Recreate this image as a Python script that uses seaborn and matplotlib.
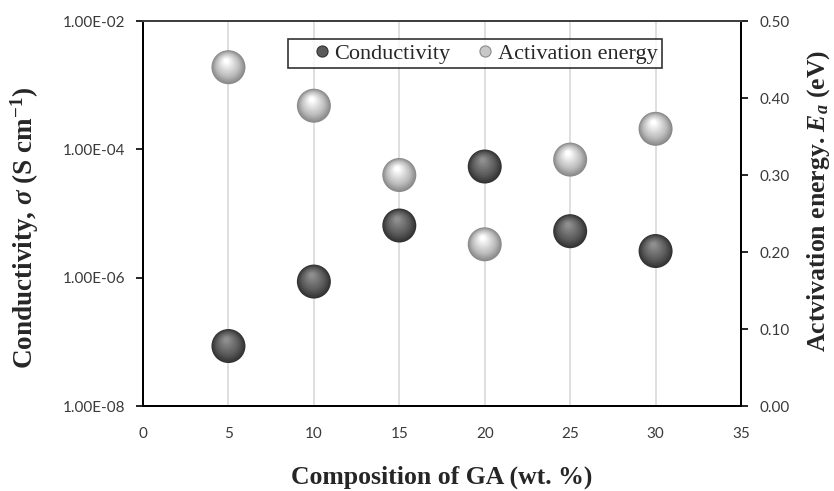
import numpy as np
import pandas as pd
import matplotlib
matplotlib.use("Agg")
import matplotlib.pyplot as plt
import matplotlib.transforms as mtransforms
from matplotlib.lines import Line2D
from matplotlib.ticker import FixedLocator, FuncFormatter
import seaborn as sns

# ---- data ----
composition = [5, 10, 15, 20, 25, 30]
conductivity = [8.6e-8, 8.7e-7, 6.5e-6, 5.4e-5, 5.3e-6, 2.6e-6]
activation_energy = [0.44, 0.39, 0.30, 0.21, 0.32, 0.36]
x_ticks = [0, 5, 10, 15, 20, 25, 30, 35]
left_ticks = [1e-8, 1e-6, 1e-4, 1e-2]
right_ticks = [0.0, 0.1, 0.2, 0.3, 0.4, 0.5]

df = pd.DataFrame({"comp": composition, "cond": conductivity, "ea": activation_energy})

sns.set_style("white")
plt.rcParams["font.family"] = ["Liberation Serif", "DejaVu Serif"]
plt.rcParams["mathtext.fontset"] = "custom"
plt.rcParams["mathtext.rm"] = "Liberation Serif:bold"
plt.rcParams["mathtext.it"] = "Liberation Serif:italic:bold"
plt.rcParams["mathtext.bf"] = "Liberation Serif:bold"

fig = plt.figure(figsize=(8.34, 4.91), dpi=100)
ax = fig.add_axes([0.1715, 0.1731, 0.717, 0.7841])
ax2 = ax.twinx()

ax.set_xlim(0, 35)
ax.set_yscale("log")
ax.set_ylim(1e-8, 1e-2)
ax2.set_ylim(0, 0.5)


def draw_spheres(axis, y, edge, mid, high):
    n = 14
    base = 34 * 72 / 100  # marker diameter in points
    c_edge = np.array(matplotlib.colors.to_rgb(edge))
    c_mid = np.array(matplotlib.colors.to_rgb(mid))
    c_high = np.array(matplotlib.colors.to_rgb(high))
    for i in range(n):
        t = i / (n - 1)
        r = 1.0 - 0.85 * t
        if t < 0.35:
            col = c_edge + (c_mid - c_edge) * (t / 0.35)
        else:
            col = c_mid + (c_high - c_mid) * ((t - 0.35) / 0.65)
        dx = -1.5 * t
        dy = 4.5 * t
        tr = mtransforms.offset_copy(axis.transData, fig=fig, x=dx, y=dy, units="points")
        sns.scatterplot(data=df, x="comp", y=y, ax=axis, s=(base * r) ** 2,
                        color=tuple(col), edgecolor="none", linewidth=0,
                        legend=False, transform=tr, zorder=3 + i * 0.01)


draw_spheres(ax, "cond", "#333333", "#595959", "#8e8e8e")
draw_spheres(ax2, "ea", "#8a8a8a", "#bdbdbd", "#ffffff")

# grid
ax.set_xticks(x_ticks)
ax.xaxis.grid(True, color="#dcdcdc", linewidth=1.3)
ax.yaxis.grid(False)
ax2.grid(False)
ax.set_axisbelow(True)

ax.yaxis.set_major_locator(FixedLocator(left_ticks))
ax.yaxis.set_minor_locator(FixedLocator([]))
ax.yaxis.set_major_formatter(FuncFormatter(lambda v, p: f"{v:.2E}"))
ax2.set_yticks(right_ticks)
ax2.yaxis.set_major_formatter(FuncFormatter(lambda v, p: f"{v:.2f}"))

for a in (ax, ax2):
    a.tick_params(axis="both", direction="out", length=5, width=1.2, color="black",
                  labelsize=11, labelcolor="#3a3a3a", pad=8)
    for lab in a.get_xticklabels() + a.get_yticklabels():
        lab.set_fontfamily(["Lato", "DejaVu Sans"])
ax.tick_params(axis="x", pad=10)

for a in (ax, ax2):
    for side in ("left", "right", "bottom"):
        a.spines[side].set_color("black")
        a.spines[side].set_linewidth(1.4)
    a.spines["top"].set_color("#404040")
    a.spines["top"].set_linewidth(1.4)

ax.set_xlabel("Composition of GA (wt. %)", fontsize=18.5, fontweight="bold", labelpad=18)
ax.set_ylabel(r"Conductivity, $\mathit{\sigma}$ (S cm$^{\mathbf{-1}}$)", fontsize=19.5,
              fontweight="bold")
ax2.set_ylabel(r"Actvivation energy. $\mathit{E_a}$ (eV)", fontsize=18.5,
               fontweight="bold")
ax.yaxis.set_label_coords(-0.170, 0.462)
ax2.yaxis.set_label_coords(1.108, 0.532)

handles = [
    Line2D([], [], linestyle="none", marker="o", markersize=8, markerfacecolor="#5a5a5a",
           markeredgecolor="#333333", markeredgewidth=0.8, label="Conductivity"),
    Line2D([], [], linestyle="none", marker="o", markersize=8, markerfacecolor="#c8c8c8",
           markeredgecolor="#8a8a8a", markeredgewidth=0.8, label="Activation energy"),
]
leg = ax2.legend(handles=handles, loc="upper center", bbox_to_anchor=(475 / 834, 0.9206),
                 bbox_transform=fig.transFigure, ncol=2, frameon=True, fancybox=False,
                 edgecolor="black", fontsize=16, handletextpad=-0.75, columnspacing=0.3,
                 borderpad=0.2, handlelength=2.6, borderaxespad=0)
leg.get_frame().set_linewidth(1.2)

fig.savefig("out.png", dpi=100)
